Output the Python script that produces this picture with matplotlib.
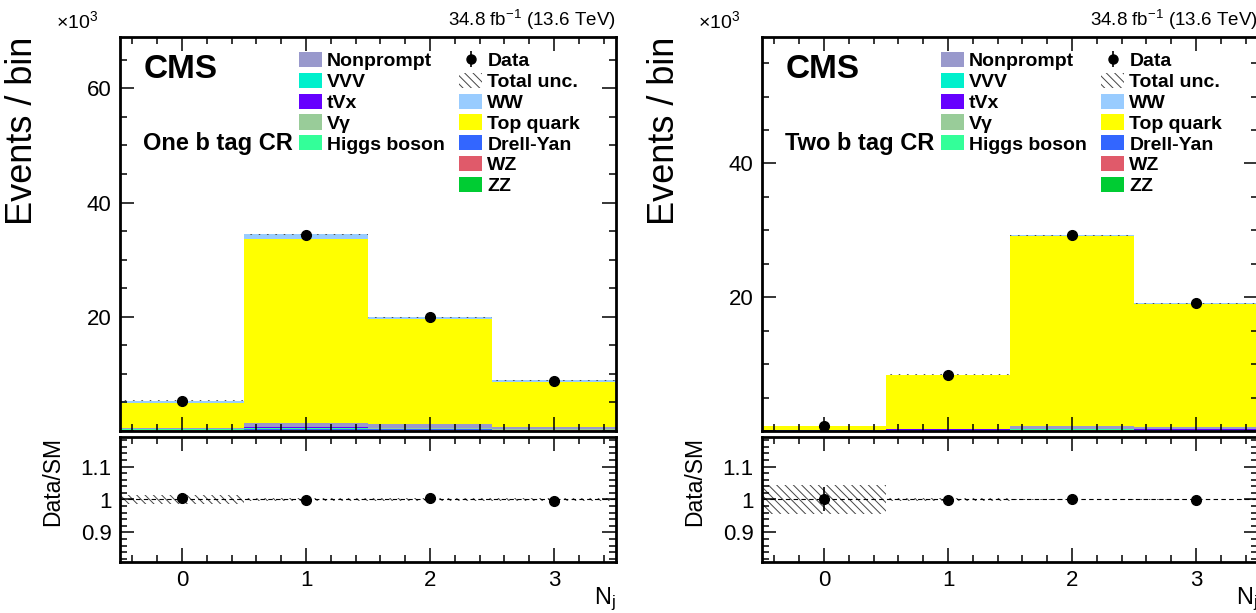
import numpy as np
import matplotlib as mpl
mpl.use('Agg')
import matplotlib.pyplot as plt
from matplotlib.patches import Patch
from matplotlib.lines import Line2D
from matplotlib.legend_handler import HandlerTuple
from matplotlib.ticker import MultipleLocator, FuncFormatter

mpl.rcParams['font.family'] = 'Liberation Sans'
mpl.rcParams['mathtext.default'] = 'regular'
mpl.rcParams['hatch.linewidth'] = 0.7

# ---- data (events x 10^3 per N_j bin) ----
nj = [0, 1, 2, 3]
procs = ['ZZ', 'WZ', 'Drell-Yan', 'Higgs boson', 'V\u03b3', 'tVx', 'VVV', 'Nonprompt', 'Top quark', 'WW']
colors = {'ZZ': '#00cc33', 'WZ': '#e05a6a', 'Drell-Yan': '#3366ff', 'Higgs boson': '#33ff99',
          'V\u03b3': '#99cc99', 'tVx': '#6600ff', 'VVV': '#00f0cc', 'Nonprompt': '#9999cc',
          'Top quark': '#ffff00', 'WW': '#99ccff'}

one_b = {'ZZ': [0.05, 0.08, 0.06, 0.04],
         'WZ': [0.08, 0.15, 0.12, 0.07],
         'Drell-Yan': [0.12, 0.20, 0.15, 0.08],
         'Higgs boson': [0.06, 0.10, 0.08, 0.05],
         'V\u03b3': [0.03, 0.05, 0.04, 0.03],
         'tVx': [0.02, 0.08, 0.09, 0.08],
         'VVV': [0.01, 0.01, 0.01, 0.01],
         'Nonprompt': [0.15, 0.80, 0.70, 0.30],
         'Top quark': [4.30, 32.10, 18.30, 8.00],
         'WW': [0.48, 0.85, 0.37, 0.20]}
one_b_data = [5.33, 34.40, 20.00, 8.83]
one_b_unc = [0.015, 0.004, 0.004, 0.004]

two_b = {'ZZ': [0.03, 0.03, 0.04, 0.03],
         'WZ': [0.02, 0.03, 0.05, 0.04],
         'Drell-Yan': [0.03, 0.03, 0.04, 0.03],
         'Higgs boson': [0.10, 0.10, 0.12, 0.10],
         'V\u03b3': [0.01, 0.01, 0.01, 0.01],
         'tVx': [0.01, 0.04, 0.10, 0.10],
         'VVV': [0.00, 0.00, 0.01, 0.01],
         'Nonprompt': [0.02, 0.10, 0.45, 0.30],
         'Top quark': [0.50, 8.00, 28.30, 18.35],
         'WW': [0.04, 0.10, 0.13, 0.10]}
two_b_data = [0.762, 8.43, 29.25, 19.07]
two_b_unc = [0.045, 0.004, 0.003, 0.003]

legend_col1 = ['Nonprompt', 'VVV', 'tVx', 'V\u03b3', 'Higgs boson']
legend_col2 = ['WW', 'Top quark', 'Drell-Yan', 'WZ', 'ZZ']

W, H = 1256, 613
fig = plt.figure(figsize=(W/100., H/100.), dpi=100)


def fx(px):
    return px/float(W)


def fy(py):
    return 1. - py/float(H)


def style(ax, major_y, minor_y, labelbottom):
    ax.set_xlim(-0.5, 3.5)
    ax.xaxis.set_major_locator(MultipleLocator(1))
    ax.xaxis.set_minor_locator(MultipleLocator(0.2))
    ax.yaxis.set_major_locator(MultipleLocator(major_y))
    ax.yaxis.set_minor_locator(MultipleLocator(minor_y))
    ax.tick_params(which='both', direction='in', top=True, right=True, width=1.1,
                   labelsize=16, labelbottom=labelbottom, pad=6)
    ax.tick_params(which='major', length=10)
    ax.tick_params(which='minor', length=5)
    for s in ax.spines.values():
        s.set_linewidth(2.0)


def panel(x0, comps, data, unc, region, ytop):
    axm = fig.add_axes([fx(x0), fy(431), fx(496), fy(37) - fy(431)])
    axr = fig.add_axes([fx(x0), fy(562), fx(496), fy(437) - fy(562)])

    x = np.array(nj, dtype=float)
    bottom = np.zeros(len(nj))
    for p in procs:
        v = np.array(comps[p])
        axm.bar(x, v, width=1.0, bottom=bottom, color=colors[p], lw=0)
        bottom += v
    total = bottom
    unc = np.array(unc)
    data = np.array(data)
    derr = np.sqrt(data*1000.)/1000.

    axm.bar(x, 2*unc*total, width=1.0, bottom=total*(1-unc), fill=False,
            hatch='\\\\\\\\', edgecolor='#444444', lw=0)
    axm.errorbar(x, data, yerr=derr, fmt='o', color='k', ms=7, elinewidth=1.2, capsize=0, zorder=5)

    ratio = data/total
    axr.bar(x, 2*unc, width=1.0, bottom=1-unc, fill=False,
            hatch='\\\\\\\\', edgecolor='#444444', lw=0)
    axr.axhline(1.0, color='k', lw=0.8, ls=(0, (4, 3)))
    axr.errorbar(x, ratio, yerr=derr/total, fmt='o', color='k', ms=7, elinewidth=1.2, capsize=0, zorder=5)

    axm.set_ylim(0, ytop)
    axr.set_ylim(0.81, 1.19)
    style(axm, 20, 5, False)
    style(axr, 0.1, 0.02, True)
    axm.yaxis.set_major_formatter(FuncFormatter(lambda v, pos: '' if v == 0 else '%d' % v))
    axr.set_yticks([0.9, 1.0, 1.1])
    axr.set_yticklabels(['0.9', '1', '1.1'])

    axm.set_ylabel('Events / bin', fontsize=26, loc='top')
    axm.yaxis.set_label_coords(-0.162, 1.0)
    axr.set_ylabel('Data/SM', fontsize=16.5, loc='top')
    axr.yaxis.set_label_coords(-0.113, 1.0)
    axr.set_xlabel('N$_j$', fontsize=17, loc='right')
    axr.xaxis.set_label_coords(1.0, -0.19)

    axm.text(-0.13, 1.012, '\u00d710$^3$', transform=axm.transAxes, fontsize=14, va='bottom')
    axm.text(1.0, 1.012, '34.8 fb$^{-1}$ (13.6 TeV)', transform=axm.transAxes, fontsize=13.5,
             ha='right', va='bottom')
    axm.text(0.047, 0.917, 'CMS', transform=axm.transAxes, fontsize=24, fontweight='bold', va='center')
    axm.text(0.047, 0.729, region, transform=axm.transAxes, fontsize=17, fontweight='bold', va='center')

    lkw = dict(loc='upper left', frameon=False, prop={'weight': 'bold', 'size': 14},
               handlelength=1.19, handleheight=0.82, labelspacing=0.13,
               handletextpad=0.26, borderpad=0, borderaxespad=0)
    h1 = [Patch(facecolor=colors[p], edgecolor='none') for p in legend_col1]
    l1 = axm.legend(h1, legend_col1, bbox_to_anchor=(0.36, 0.962), **lkw)
    axm.add_artist(l1)
    dot = (Line2D([], [], marker='|', color='k', ls='none', ms=12, mew=1.2),
           Line2D([], [], marker='o', color='k', ls='none', ms=6.5))
    h2 = [dot, Patch(facecolor='none', edgecolor='#444444', hatch='\\\\\\\\', lw=0)]
    h2 += [Patch(facecolor=colors[p], edgecolor='none') for p in legend_col2]
    axm.legend(h2, ['Data', 'Total unc.'] + legend_col2, bbox_to_anchor=(0.684, 0.962),
               handler_map={tuple: HandlerTuple(ndivide=1)}, **lkw)
    return axm, axr


panel(120, one_b, one_b_data, one_b_unc, 'One b tag CR', 69.0)
panel(762, two_b, two_b_data, two_b_unc, 'Two b tag CR', 58.9)

fig.savefig('out.png', dpi=100)
